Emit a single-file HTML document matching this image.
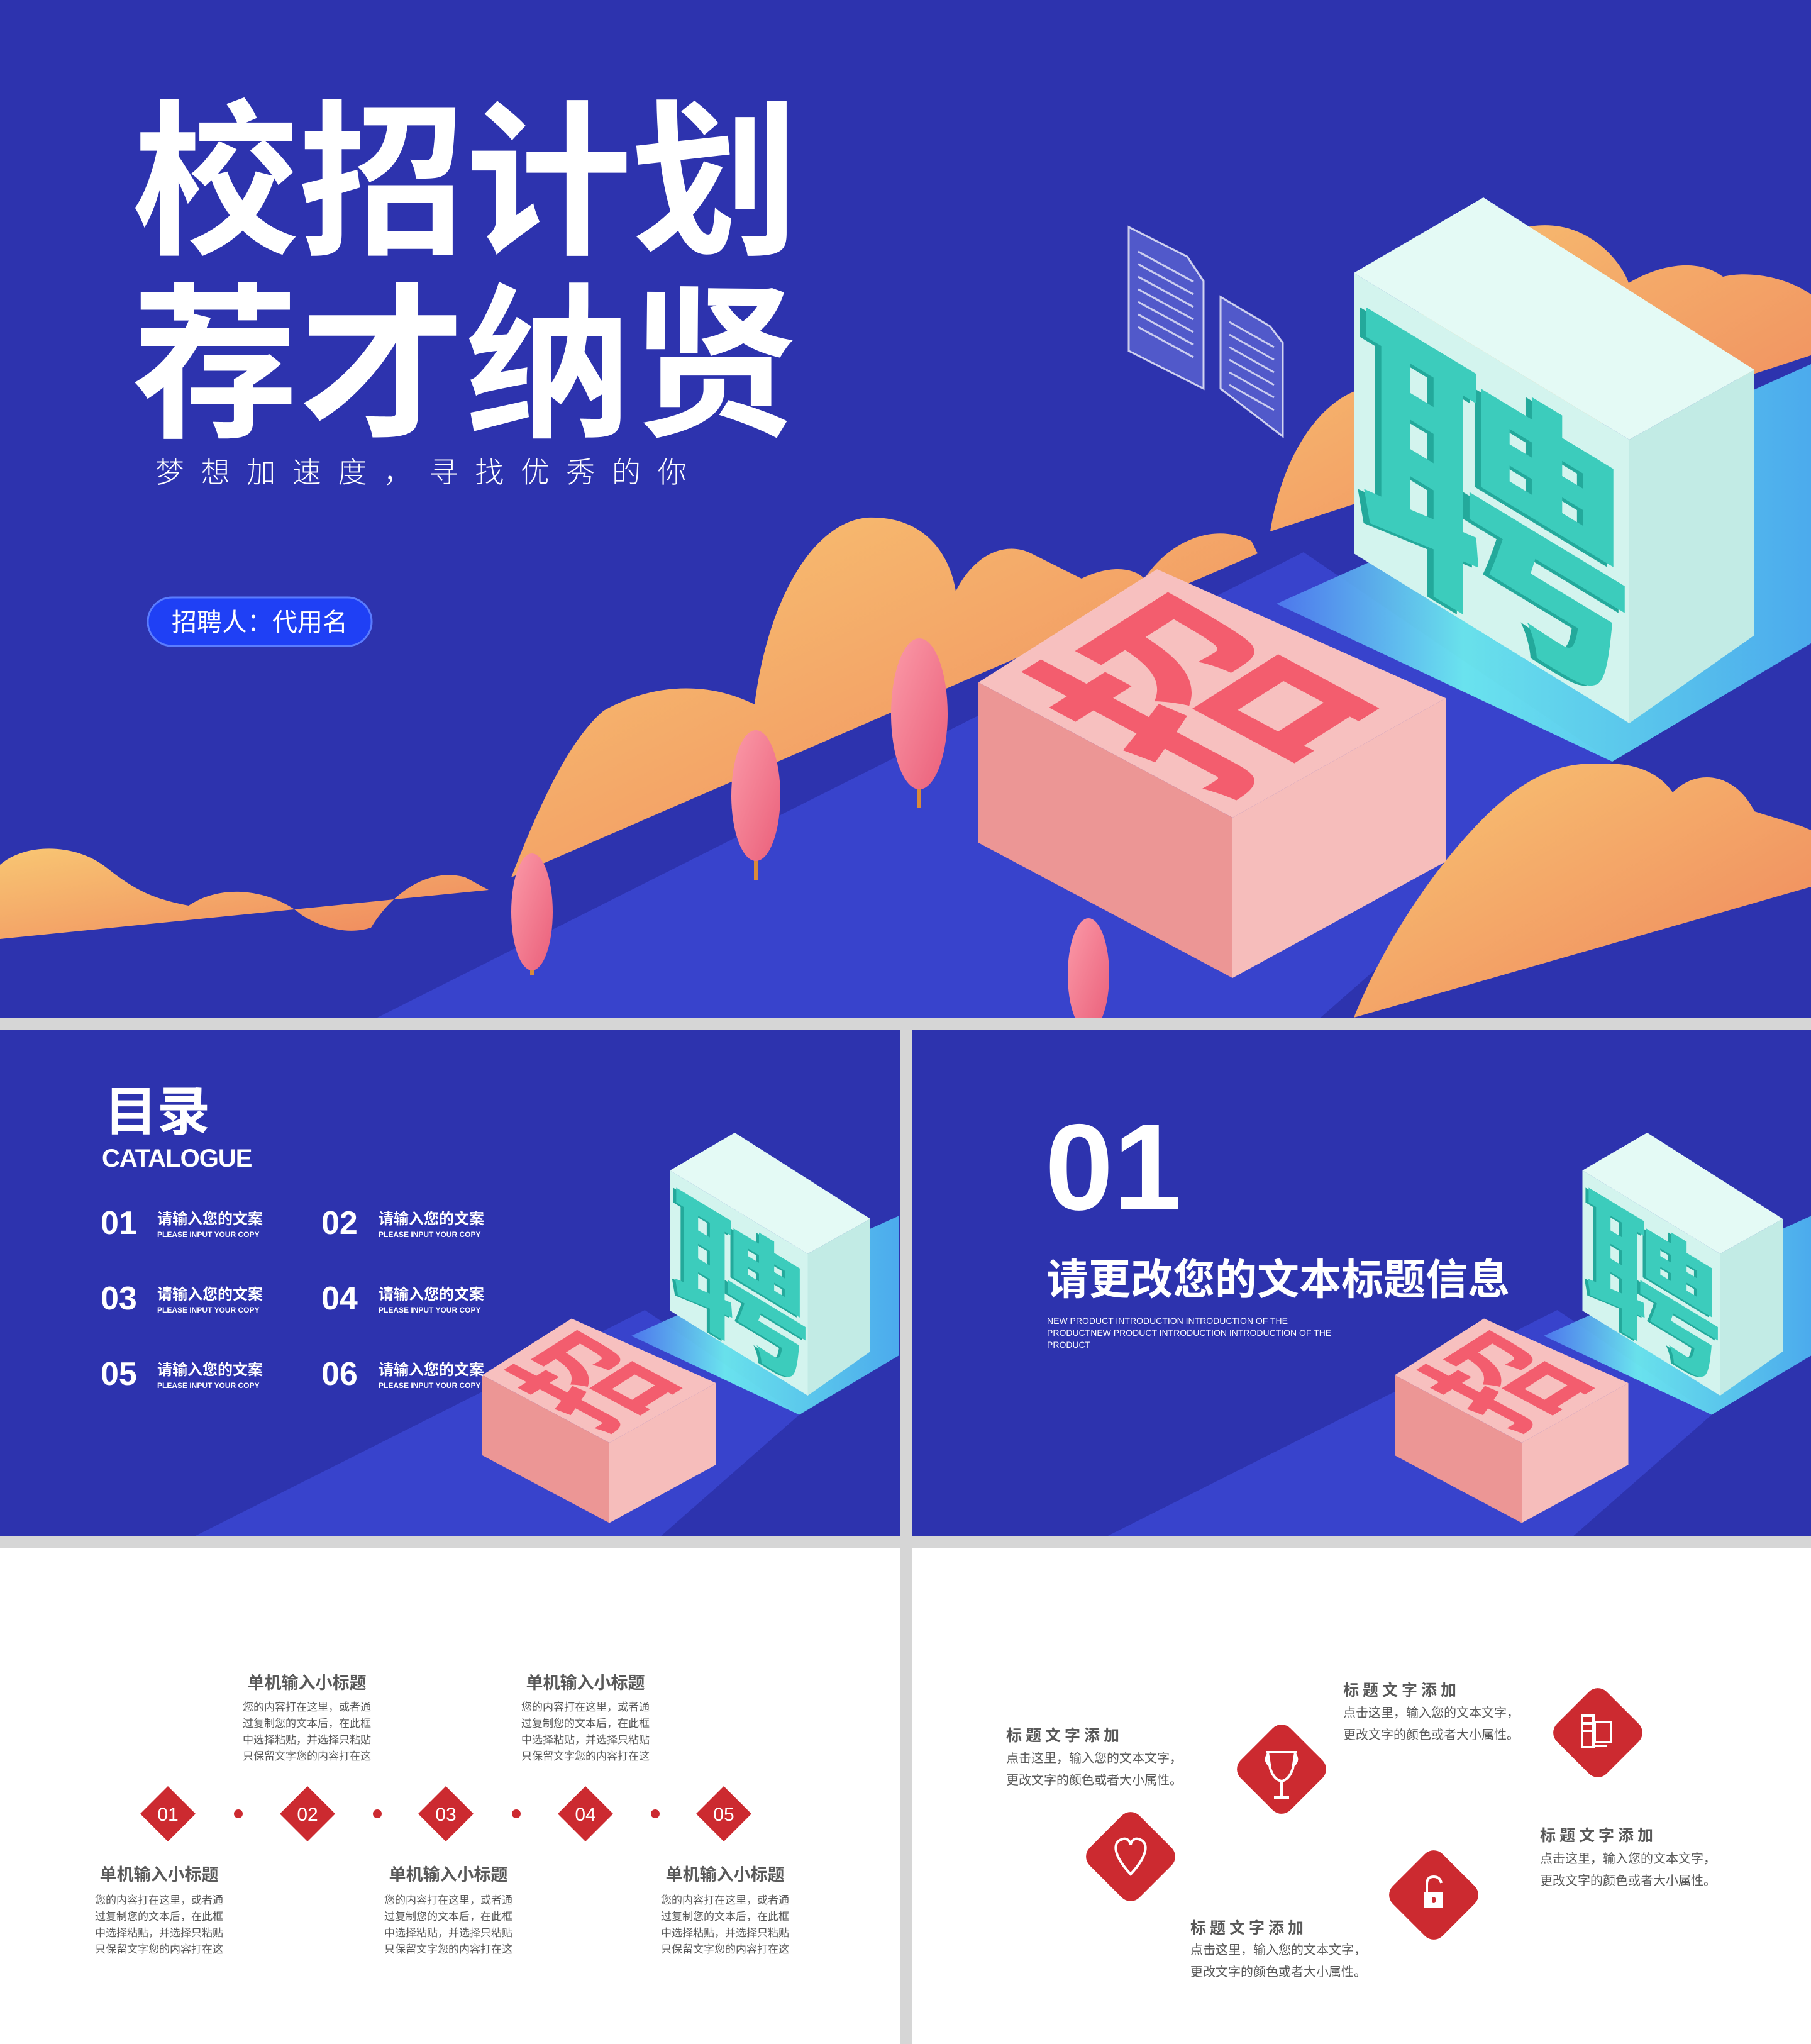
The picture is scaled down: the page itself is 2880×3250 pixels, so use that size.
<!DOCTYPE html>
<html><head><meta charset="utf-8"><style>
html,body{margin:0;padding:0;background:#d6d6d6;}
svg{display:block;}
text{font-family:"Liberation Sans","Noto Sans CJK SC",sans-serif;}
</style></head><body>
<svg width="2880" height="3250" viewBox="0 0 2880 3250" xmlns="http://www.w3.org/2000/svg">
<defs>
<linearGradient id="cl" x1="0" y1="0" x2="1" y2="1"><stop offset="0" stop-color="#f8c673"/><stop offset="1" stop-color="#ef845c"/></linearGradient>
<linearGradient id="cy" x1="0" y1="0" x2="1" y2="0"><stop offset="0" stop-color="#4f7cf0"/><stop offset="0.35" stop-color="#6ff4f2"/><stop offset="1" stop-color="#4fb8f4"/></linearGradient>
<linearGradient id="tr" x1="0" y1="0" x2="1" y2="1"><stop offset="0" stop-color="#fb9aa8"/><stop offset="1" stop-color="#ea5f7a"/></linearGradient>
<clipPath id="c1"><rect x="0" y="0" width="2880" height="1618"/></clipPath>
<clipPath id="c2"><rect x="0" y="1638" width="1431" height="804"/></clipPath>
<clipPath id="c3"><rect x="1450" y="1638" width="1430" height="804"/></clipPath>
</defs>

<rect x="0" y="0" width="2880" height="1618" fill="#2d33ae"/>
<rect x="0" y="1638" width="1431" height="804" fill="#2d33ae"/>
<rect x="1450" y="1638" width="1430" height="804" fill="#2d33ae"/>
<rect x="0" y="2461" width="1431" height="789" fill="#ffffff"/>
<rect x="1450" y="2461" width="1430" height="789" fill="#ffffff"/>

<g clip-path="url(#c1)">
 <polygon points="600,1618 2073,878 2564,1211 2100,1618" fill="#3843cc"/>
 <path d="M0,1493 L0,1375 C40,1340 120,1340 170,1380 C220,1420 250,1430 300,1440 C360,1400 440,1420 480,1455 C520,1480 560,1485 590,1475 C630,1410 690,1380 740,1395 L777,1415 Z" fill="url(#cl)"/>
 <path d="M813,1395 C850,1300 900,1180 960,1130 C1030,1090 1120,1080 1200,1120 C1220,960 1290,830 1380,823 C1470,820 1510,880 1520,940 C1550,880 1600,860 1640,880 C1680,900 1700,910 1720,920 C1760,900 1800,900 1820,920 C1860,860 1930,830 1990,860 L2000,880 Z" fill="url(#cl)"/>
 <path d="M2020,845 C2040,720 2100,640 2160,620 L2300,450 C2350,380 2420,350 2480,360 C2540,370 2580,420 2590,450 C2640,420 2700,410 2740,440 C2780,430 2840,440 2880,468 L2880,565 Z" fill="url(#cl)"/>
 <polygon points="2030,960 2880,579 2880,1023 2564,1211" fill="url(#cy)" opacity="0.9"/>
 <g fill="rgba(150,160,255,0.35)" stroke="rgba(255,255,255,0.75)" stroke-width="3">
  <polygon points="1795,361 1888,408 1914,447 1914,618 1795,558"/>
  <polygon points="1941,472 2020,519 2040,545 2040,694 1941,618"/>
 </g>
 <g stroke="rgba(255,255,255,0.7)" stroke-width="3">
  <line x1="1810" y1="400" x2="1898" y2="448"/><line x1="1810" y1="420" x2="1898" y2="468"/><line x1="1810" y1="440" x2="1898" y2="488"/><line x1="1810" y1="460" x2="1898" y2="508"/><line x1="1810" y1="480" x2="1898" y2="528"/><line x1="1810" y1="500" x2="1898" y2="548"/><line x1="1810" y1="520" x2="1898" y2="568"/>
  <line x1="1955" y1="512" x2="2026" y2="552"/><line x1="1955" y1="532" x2="2026" y2="572"/><line x1="1955" y1="552" x2="2026" y2="592"/><line x1="1955" y1="572" x2="2026" y2="612"/><line x1="1955" y1="592" x2="2026" y2="632"/><line x1="1955" y1="612" x2="2026" y2="652"/>
 </g>
 <g>
  <polygon points="2153,434 2359,314 2790,588 2591,699" fill="#e4faf5"/>
  <polygon points="2153,434 2591,699 2591,1150 2153,880" fill="#d3f4ee"/>
  <polygon points="2591,699 2790,588 2790,1010 2591,1150" fill="#c2ebe5"/>
  <g transform="translate(2153,434) skewY(31.2)"><text x="-6" y="406" font-size="440" font-weight="bold" fill="#23a99b">聘</text><text x="4" y="400" font-size="440" font-weight="bold" fill="#3cccbc">聘</text></g>
 </g>
 <g>
  <polygon points="1556,1085 1840,905 2299,1110 1960,1300" fill="#f7c0bf"/>
  <polygon points="1556,1085 1960,1300 1960,1555 1556,1340" fill="#ec9695"/>
  <polygon points="1960,1300 2299,1110 2299,1370 1960,1555" fill="#f6bdbb"/>
  <g transform="matrix(0.71,-0.45,1.01,0.54,1556,1085)"><text x="10" y="345" font-size="380" font-weight="bold" fill="#f35d6e">招</text></g>
 </g>
 <g stroke="#d98a3a" stroke-width="6"><line x1="1462" y1="1200" x2="1462" y2="1285"/><line x1="1202" y1="1330" x2="1202" y2="1400"/><line x1="846" y1="1500" x2="846" y2="1550"/></g>
 <ellipse cx="1462" cy="1135" rx="45" ry="120" fill="url(#tr)"/>
 <ellipse cx="1202" cy="1265" rx="39" ry="104" fill="url(#tr)"/>
 <ellipse cx="846" cy="1450" rx="33" ry="93" fill="url(#tr)"/>
 <ellipse cx="1731" cy="1550" rx="33" ry="90" fill="url(#tr)"/>
 <path d="M2153,1618 C2200,1500 2280,1380 2360,1300 C2420,1240 2480,1210 2540,1215 C2600,1210 2640,1230 2660,1260 C2700,1220 2760,1230 2790,1290 C2820,1300 2860,1310 2880,1320 L2880,1410 Z" fill="url(#cl)"/>
</g>

<g clip-path="url(#c2)"><g transform="translate(-11,1644) scale(0.5)">
 <polygon points="600,1618 2073,878 2564,1211 2100,1618" fill="#3843cc"/>
 <polygon points="2030,960 2880,579 2880,1023 2564,1211" fill="url(#cy)" opacity="0.9"/>
 <polygon points="2153,434 2359,314 2790,588 2591,699" fill="#e4faf5"/>
 <polygon points="2153,434 2591,699 2591,1150 2153,880" fill="#d3f4ee"/>
 <polygon points="2591,699 2790,588 2790,1010 2591,1150" fill="#c2ebe5"/>
 <g transform="translate(2153,434) skewY(31.2)"><text x="-6" y="406" font-size="440" font-weight="bold" fill="#23a99b">聘</text><text x="4" y="400" font-size="440" font-weight="bold" fill="#3cccbc">聘</text></g>
 <polygon points="1556,1085 1840,905 2299,1110 1960,1300" fill="#f7c0bf"/>
 <polygon points="1556,1085 1960,1300 1960,1555 1556,1340" fill="#ec9695"/>
 <polygon points="1960,1300 2299,1110 2299,1370 1960,1555" fill="#f6bdbb"/>
 <g transform="matrix(0.71,-0.45,1.01,0.54,1556,1085)"><text x="10" y="345" font-size="380" font-weight="bold" fill="#f35d6e">招</text></g>
</g></g>

<g clip-path="url(#c3)"><g transform="translate(1440,1644) scale(0.5)">
 <polygon points="600,1618 2073,878 2564,1211 2100,1618" fill="#3843cc"/>
 <polygon points="2030,960 2880,579 2880,1023 2564,1211" fill="url(#cy)" opacity="0.9"/>
 <polygon points="2153,434 2359,314 2790,588 2591,699" fill="#e4faf5"/>
 <polygon points="2153,434 2591,699 2591,1150 2153,880" fill="#d3f4ee"/>
 <polygon points="2591,699 2790,588 2790,1010 2591,1150" fill="#c2ebe5"/>
 <g transform="translate(2153,434) skewY(31.2)"><text x="-6" y="406" font-size="440" font-weight="bold" fill="#23a99b">聘</text><text x="4" y="400" font-size="440" font-weight="bold" fill="#3cccbc">聘</text></g>
 <polygon points="1556,1085 1840,905 2299,1110 1960,1300" fill="#f7c0bf"/>
 <polygon points="1556,1085 1960,1300 1960,1555 1556,1340" fill="#ec9695"/>
 <polygon points="1960,1300 2299,1110 2299,1370 1960,1555" fill="#f6bdbb"/>
 <g transform="matrix(0.71,-0.45,1.01,0.54,1556,1085)"><text x="10" y="345" font-size="380" font-weight="bold" fill="#f35d6e">招</text></g>
</g></g>

<g fill="#ffffff">
 <text x="210" y="383" font-size="265" font-weight="bold">校招计划</text>
 <text x="210" y="674" font-size="265" font-weight="bold">荐才纳贤</text>
 <text x="247" y="767" font-size="46" font-weight="300" letter-spacing="26.6">梦想加速度，寻找优秀的你</text>
</g>
<rect x="235" y="950" width="356" height="77" rx="38.5" fill="#1f40f5" stroke="#5a7cff" stroke-width="3"/>
<text x="413" y="1003" font-size="40" fill="#fff" text-anchor="middle">招聘人：代用名</text>

<g fill="#fff">
 <text x="166" y="1797" font-size="84" font-weight="bold">目录</text>
 <text x="162" y="1855" font-size="40" font-weight="bold" letter-spacing="-1">CATALOGUE</text>
 <g font-size="52" font-weight="bold">
  <text x="160" y="1962">01</text><text x="511" y="1962">02</text>
  <text x="160" y="2082">03</text><text x="511" y="2082">04</text>
  <text x="160" y="2202">05</text><text x="511" y="2202">06</text>
 </g>
 <g font-size="24" font-weight="bold">
  <text x="250" y="1946">请输入您的文案</text><text x="602" y="1946">请输入您的文案</text>
  <text x="250" y="2066">请输入您的文案</text><text x="602" y="2066">请输入您的文案</text>
  <text x="250" y="2186">请输入您的文案</text><text x="602" y="2186">请输入您的文案</text>
 </g>
 <g font-size="12" font-weight="bold">
  <text x="250" y="1967">PLEASE INPUT YOUR COPY</text><text x="602" y="1967">PLEASE INPUT YOUR COPY</text>
  <text x="250" y="2087">PLEASE INPUT YOUR COPY</text><text x="602" y="2087">PLEASE INPUT YOUR COPY</text>
  <text x="250" y="2207">PLEASE INPUT YOUR COPY</text><text x="602" y="2207">PLEASE INPUT YOUR COPY</text>
 </g>
</g>

<g fill="#fff">
 <text x="1662" y="1923" font-size="195" font-weight="bold">01</text>
 <text x="1664" y="2058" font-size="67" font-weight="bold">请更改您的文本标题信息</text>
 <g font-size="14"><text x="1665" y="2105">NEW PRODUCT INTRODUCTION INTRODUCTION OF THE</text><text x="1665" y="2124">PRODUCTNEW PRODUCT INTRODUCTION INTRODUCTION OF THE</text><text x="1665" y="2143">PRODUCT</text></g>
</g>

<g fill="#595959" text-anchor="middle">
 <g font-size="27" font-weight="bold"><text x="488" y="2685">单机输入小标题</text><text x="931" y="2685">单机输入小标题</text><text x="253" y="2990">单机输入小标题</text><text x="713" y="2990">单机输入小标题</text><text x="1153" y="2990">单机输入小标题</text></g>
 <g font-size="17">
  <text x="488" y="2720">您的内容打在这里，或者通</text><text x="488" y="2746">过复制您的文本后，在此框</text><text x="488" y="2772">中选择粘贴，并选择只粘贴</text><text x="488" y="2798">只保留文字您的内容打在这</text>
  <text x="931" y="2720">您的内容打在这里，或者通</text><text x="931" y="2746">过复制您的文本后，在此框</text><text x="931" y="2772">中选择粘贴，并选择只粘贴</text><text x="931" y="2798">只保留文字您的内容打在这</text>
  <text x="253" y="3027">您的内容打在这里，或者通</text><text x="253" y="3053">过复制您的文本后，在此框</text><text x="253" y="3079">中选择粘贴，并选择只粘贴</text><text x="253" y="3105">只保留文字您的内容打在这</text>
  <text x="713" y="3027">您的内容打在这里，或者通</text><text x="713" y="3053">过复制您的文本后，在此框</text><text x="713" y="3079">中选择粘贴，并选择只粘贴</text><text x="713" y="3105">只保留文字您的内容打在这</text>
  <text x="1153" y="3027">您的内容打在这里，或者通</text><text x="1153" y="3053">过复制您的文本后，在此框</text><text x="1153" y="3079">中选择粘贴，并选择只粘贴</text><text x="1153" y="3105">只保留文字您的内容打在这</text>
 </g>
</g>
<g fill="#cc2a30">
 <polygon points="267,2840 311,2884 267,2928 223,2884"/><polygon points="489,2840 533,2884 489,2928 445,2884"/><polygon points="709,2840 753,2884 709,2928 665,2884"/><polygon points="931,2840 975,2884 931,2928 887,2884"/><polygon points="1151,2840 1195,2884 1151,2928 1107,2884"/>
 <circle cx="379" cy="2884" r="7"/><circle cx="600" cy="2884" r="7"/><circle cx="821" cy="2884" r="7"/><circle cx="1042" cy="2884" r="7"/>
</g>
<g fill="#fff" font-size="30" text-anchor="middle"><text x="267" y="2895">01</text><text x="489" y="2895">02</text><text x="709" y="2895">03</text><text x="931" y="2895">04</text><text x="1151" y="2895">05</text></g>

<g fill="#cc2a30">
 <rect x="-56" y="-56" width="112" height="112" rx="20" transform="translate(2038,2813) rotate(45)"/>
 <rect x="-56" y="-56" width="112" height="112" rx="20" transform="translate(2541,2755) rotate(45)"/>
 <rect x="-56" y="-56" width="112" height="112" rx="20" transform="translate(1798,2952) rotate(45)"/>
 <rect x="-56" y="-56" width="112" height="112" rx="20" transform="translate(2280,3013) rotate(45)"/>
</g>
<g stroke="#fff" stroke-width="4" fill="none">
 <path d="M2016,2786 L2060,2786 L2056,2812 Q2050,2830 2038,2832 Q2026,2830 2020,2812 Z"/><path d="M2016,2790 Q2010,2800 2020,2808 M2060,2790 Q2066,2800 2056,2808"/><line x1="2038" y1="2832" x2="2038" y2="2856"/><line x1="2026" y1="2858" x2="2050" y2="2858"/>
 <rect x="2516" y="2728" width="18" height="50"/><rect x="2536" y="2738" width="26" height="32"/><line x1="2516" y1="2740" x2="2534" y2="2740"/><line x1="2516" y1="2752" x2="2534" y2="2752"/><line x1="2536" y1="2776" x2="2556" y2="2776"/>
 <path d="M1798,2980 C1770,2950 1768,2928 1786,2924 C1794,2922 1798,2930 1798,2934 C1798,2930 1802,2922 1810,2924 C1828,2928 1826,2950 1798,2980 Z"/>
 <path d="M2269,3010 L2269,2996 Q2269,2984 2280,2984 Q2290,2984 2292,2994"/>
</g>
<rect x="2265" y="3008" width="30" height="26" fill="#fff"/><rect x="2277" y="3016" width="6" height="10" rx="3" fill="#cc2a30"/>
<g fill="#595959">
 <g font-size="25" font-weight="bold" letter-spacing="6"><text x="1600" y="2768">标题文字添加</text><text x="2136" y="2696">标题文字添加</text><text x="2449" y="2927">标题文字添加</text><text x="1893" y="3074">标题文字添加</text></g>
 <g font-size="20">
  <text x="1600" y="2802">点击这里，输入您的文本文字，</text><text x="1600" y="2837">更改文字的颜色或者大小属性。</text>
  <text x="2136" y="2730">点击这里，输入您的文本文字，</text><text x="2136" y="2765">更改文字的颜色或者大小属性。</text>
  <text x="2449" y="2962">点击这里，输入您的文本文字，</text><text x="2449" y="2997">更改文字的颜色或者大小属性。</text>
  <text x="1893" y="3107">点击这里，输入您的文本文字，</text><text x="1893" y="3142">更改文字的颜色或者大小属性。</text>
 </g>
</g>
</svg>
</body></html>
